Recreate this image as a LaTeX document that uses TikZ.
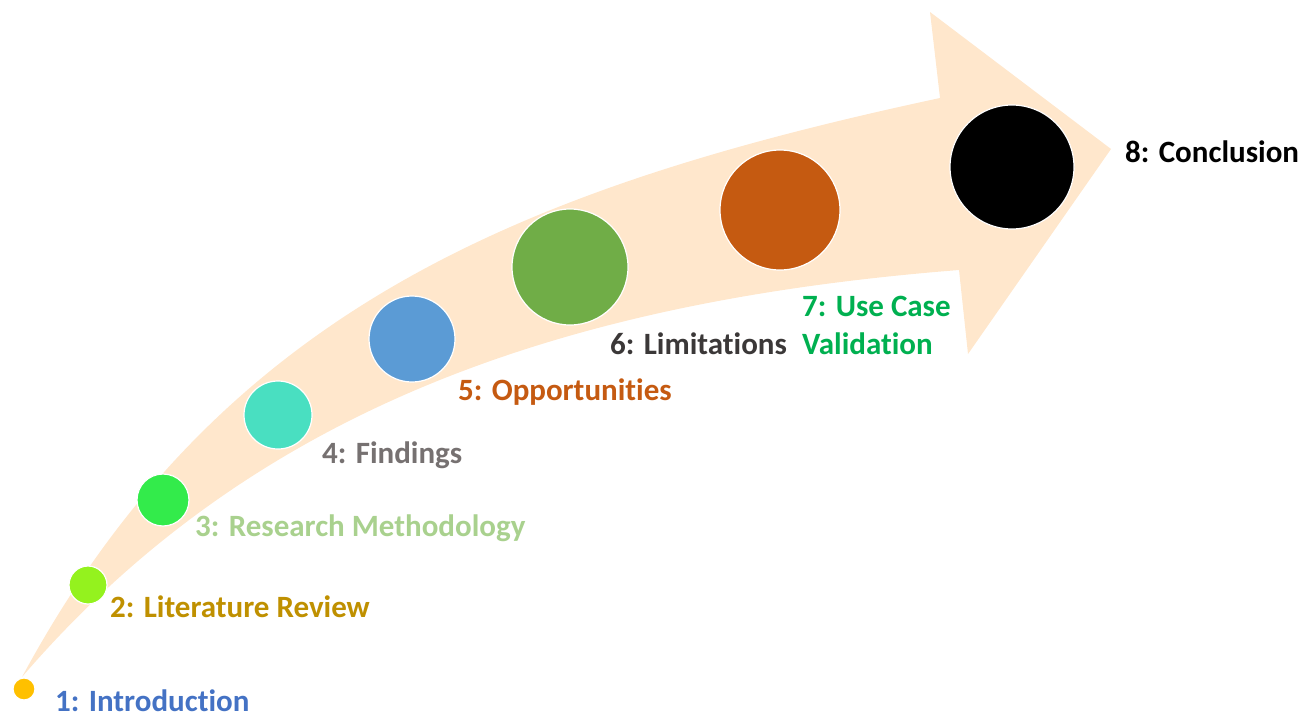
\documentclass[tikz,border=0pt]{standalone}
\usepackage{fontspec}
\setmainfont{Carlito}[Ligatures={NoCommon}]
\definecolor{peach}{HTML}{FFE7CC}
\definecolor{cA}{HTML}{FFC000}
\definecolor{cB}{HTML}{94F21E}
\definecolor{cC}{HTML}{33EB4B}
\definecolor{cD}{HTML}{49DFC1}
\definecolor{cE}{HTML}{5B9BD5}
\definecolor{cF}{HTML}{70AD47}
\definecolor{cG}{HTML}{C55A11}
\definecolor{cH}{HTML}{000000}
\definecolor{tA}{HTML}{4472C4}
\definecolor{tB}{HTML}{BF9000}
\definecolor{tC}{HTML}{A9D18E}
\definecolor{tD}{HTML}{767171}
\definecolor{tE}{HTML}{C55A11}
\definecolor{tF}{HTML}{3B3838}
\definecolor{tG}{HTML}{00B050}
\definecolor{tH}{HTML}{000000}
\tikzset{
  dot/.style={circle, draw=white, line width=1.2pt, inner sep=0pt, minimum size=#1},
  lbl/.style={anchor=base west, inner sep=0pt, font=\fontsize{31}{38}\selectfont\bfseries, text=#1, align=left},
}
\begin{document}
\begin{tikzpicture}[x=1pt,y=-1pt]
\useasboundingbox (0,0) rectangle (1314,715);
% curved arrow
\fill[peach] (22,677) .. controls (220,310) and (520,188) .. (940,98)
  -- (930,12) -- (1111,149) -- (968,354) -- (959,270)
  .. controls (580,300) and (260,400) .. (22,677) -- cycle;
% circles
\node[dot=22pt, fill=cA] (c1) at (24,689) {};
\node[dot=38pt, fill=cB] (c2) at (88,585) {};
\node[dot=52pt, fill=cC] (c3) at (163,500) {};
\node[dot=68pt, fill=cD] (c4) at (278,415) {};
\node[dot=86pt, fill=cE] (c5) at (412,339) {};
\node[dot=116pt, fill=cF] (c6) at (570,267) {};
\node[dot=120pt, fill=cG] (c7) at (780,210) {};
\node[dot=124pt, fill=cH] (c8) at (1012,167) {};
% labels
\node[lbl=tA] (l1) at (55,711) {1: Introduction};
\node[lbl=tB] (l2) at (110,617) {2: Literature Review};
\node[lbl=tC] (l3) at (195,536) {3: Research Methodology};
\node[lbl=tD] (l4) at (322,463) {4: Findings};
\node[lbl=tE] (l5) at (458,400) {5: Opportunities};
\node[lbl=tF] (l6) at (610,354) {6: Limitations};
\node[lbl=tG] (l7a) at (802,316) {7: Use Case};
\node[lbl=tG] (l7b) at (802,354) {Validation};
\node[lbl=tH] (l8) at (1125,162) {8: Conclusion};
\end{tikzpicture}
\end{document}
